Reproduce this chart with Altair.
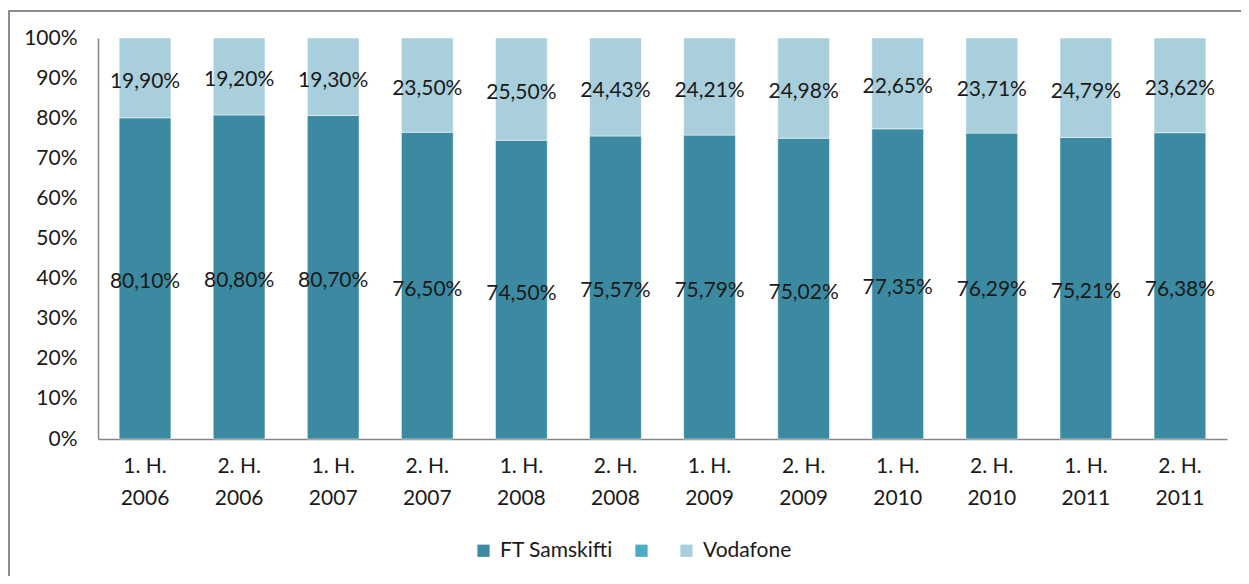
import altair as alt
import pandas as pd

halves = ["1. H.", "2. H.", "1. H.", "2. H.", "1. H.", "2. H.", "1. H.", "2. H.", "1. H.", "2. H.", "1. H.", "2. H."]
years = ["2006", "2006", "2007", "2007", "2008", "2008", "2009", "2009", "2010", "2010", "2011", "2011"]
ft_samskifti = [80.10, 80.80, 80.70, 76.50, 74.50, 75.57, 75.79, 75.02, 77.35, 76.29, 75.21, 76.38]
vodafone = [19.90, 19.20, 19.30, 23.50, 25.50, 24.43, 24.21, 24.98, 22.65, 23.71, 24.79, 23.62]
series = ["FT Samskifti", "   ", "Vodafone"]
colors = ["#3C8AA1", "#4BACC6", "#A9CEDC"]
y_ticks = [0, 10, 20, 30, 40, 50, 60, 70, 80, 90, 100]

periods = [f"{h} {y}" for h, y in zip(halves, years)]

rows = []
for i, p in enumerate(periods):
    for s, vals, order in [(series[0], ft_samskifti, 0), (series[2], vodafone, 1)]:
        v = vals[i]
        rows.append({"period": p, "series": s, "value": v, "order": order,
                     "label": f"{v:.2f}".replace(".", ",") + "%"})
df = pd.DataFrame(rows)

FONT = "Lato"
FS = 21

base = alt.Chart(df).transform_stack(
    stack="value", groupby=["period"], as_=["v0", "v1"],
    sort=[alt.SortField("order", order="ascending")]
)

x_enc = alt.X("period:N", sort=periods, title=None,
              scale=alt.Scale(paddingInner=0.45, paddingOuter=0.225),
              axis=alt.Axis(labelAngle=0, ticks=False, domainColor="#868686", domainWidth=1.5,
                            labelExpr="[substring(datum.label, 0, 5), substring(datum.label, 6)]",
                            labelLineHeight=32, labelPadding=16, labelFontSize=FS,
                            labelFont=FONT, labelColor="#1a1a1a"))

bars = base.mark_bar(stroke="white", strokeWidth=0.5).encode(
    x=x_enc,
    y=alt.Y("v0:Q", title=None,
            scale=alt.Scale(domain=[0, 100]),
            axis=alt.Axis(values=y_ticks, labelExpr="datum.value + '%'", ticks=False, grid=False,
                          domainColor="#868686", domainWidth=1.5, labelPadding=21,
                          labelFontSize=FS, labelFont=FONT, labelColor="#1a1a1a")),
    y2="v1:Q",
    color=alt.Color("series:N", scale=alt.Scale(domain=series, range=colors),
                    legend=alt.Legend(title=None, orient="none", direction="horizontal",
                                      legendX=375, legendY=502, symbolType="square",
                                      symbolSize=150, symbolStrokeWidth=0, labelFontSize=FS,
                                      labelFont=FONT, labelColor="#1a1a1a", columnPadding=18,
                                      labelOffset=6)),
)

labels = base.transform_calculate(mid="(datum.v0 + datum.v1) / 2").mark_text(
    fontSize=FS, font=FONT, color="#1a1a1a", dy=4
).encode(
    x=alt.X("period:N", sort=periods),
    y=alt.Y("mid:Q"),
    text="label:N",
)

frame = alt.Chart(pd.DataFrame({"a": [0]})).mark_rect(
    fill=None, stroke="#8c8c8c", strokeWidth=2
).encode(x=alt.value(-89), x2=alt.value(1300), y=alt.value(-27), y2=alt.value(700))

chart = alt.layer(frame, bars, labels).properties(
    width=1129, height=401,
    autosize=alt.AutoSizeParams(type="none"),
    padding={"left": 90, "top": 30, "right": 14, "bottom": 137},
).configure_view(stroke=None)

chart.save("out.html", embed_options={"renderer": "svg", "actions": False})
